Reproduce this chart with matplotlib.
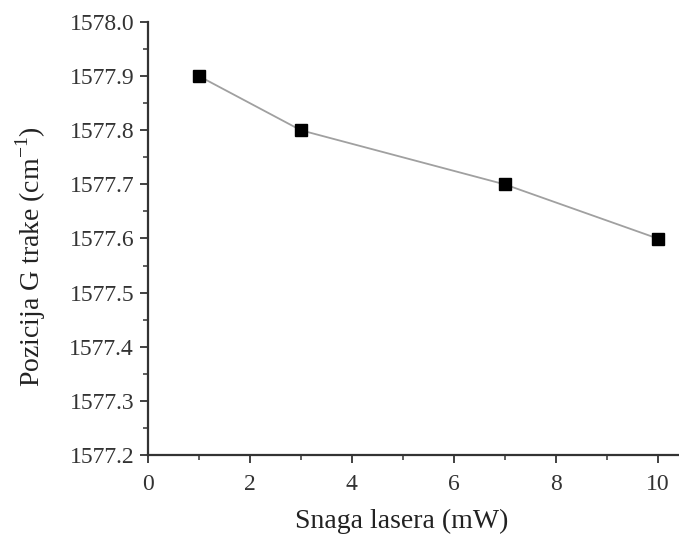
import matplotlib
matplotlib.use("Agg")
import matplotlib.pyplot as plt
from matplotlib.ticker import MultipleLocator

# Laser power (mW) and G-band position (cm^-1)
power_mw = [1, 3, 7, 10]
g_position = [1577.9, 1577.8, 1577.7, 1577.6]

plt.rcParams["font.family"] = ["Liberation Serif", "DejaVu Serif"]
plt.rcParams["mathtext.fontset"] = "custom"
plt.rcParams["mathtext.rm"] = "Liberation Serif"

fig = plt.figure(figsize=(6.79, 5.43), dpi=100)
ax = fig.add_axes([148 / 679, 1 - 455 / 543, 1 - 148 / 679, (455 - 22) / 543])

ax.plot(power_mw, g_position, color="#a0a0a0", linewidth=1.3, zorder=2)
ax.plot(power_mw, g_position, linestyle="none", marker="s", markersize=9,
        color="black", zorder=3)

ax.set_xlim(0, 10.42)
ax.set_ylim(1577.2, 1578.0)

ax.xaxis.set_major_locator(MultipleLocator(2))
ax.xaxis.set_minor_locator(MultipleLocator(1))
ax.yaxis.set_major_locator(MultipleLocator(0.1))
ax.yaxis.set_minor_locator(MultipleLocator(0.05))
ax.yaxis.set_major_formatter(plt.FormatStrFormatter("%.1f"))

for side in ("top", "right"):
    ax.spines[side].set_visible(False)
for side in ("left", "bottom"):
    ax.spines[side].set_linewidth(1.6)
    ax.spines[side].set_color("#333333")

ax.tick_params(which="major", direction="out", length=6, width=1.3,
               labelsize=17, colors="#333333")
ax.tick_params(axis="x", which="major", pad=8)
ax.tick_params(axis="y", which="major", pad=4)
ax.tick_params(which="minor", direction="out", length=3.5, width=1.1,
               colors="#333333")

ax.set_xlabel("Snaga lasera (mW)", fontsize=20, color="#222222")
ax.set_ylabel("Pozicija G trake (cm$^{\\mathregular{-1}}$)", fontsize=20,
              color="#222222")
ax.xaxis.set_label_coords(0.478, -0.125)
ax.yaxis.set_label_coords(-0.188, 0.457)

fig.savefig("out.png", dpi=100)
